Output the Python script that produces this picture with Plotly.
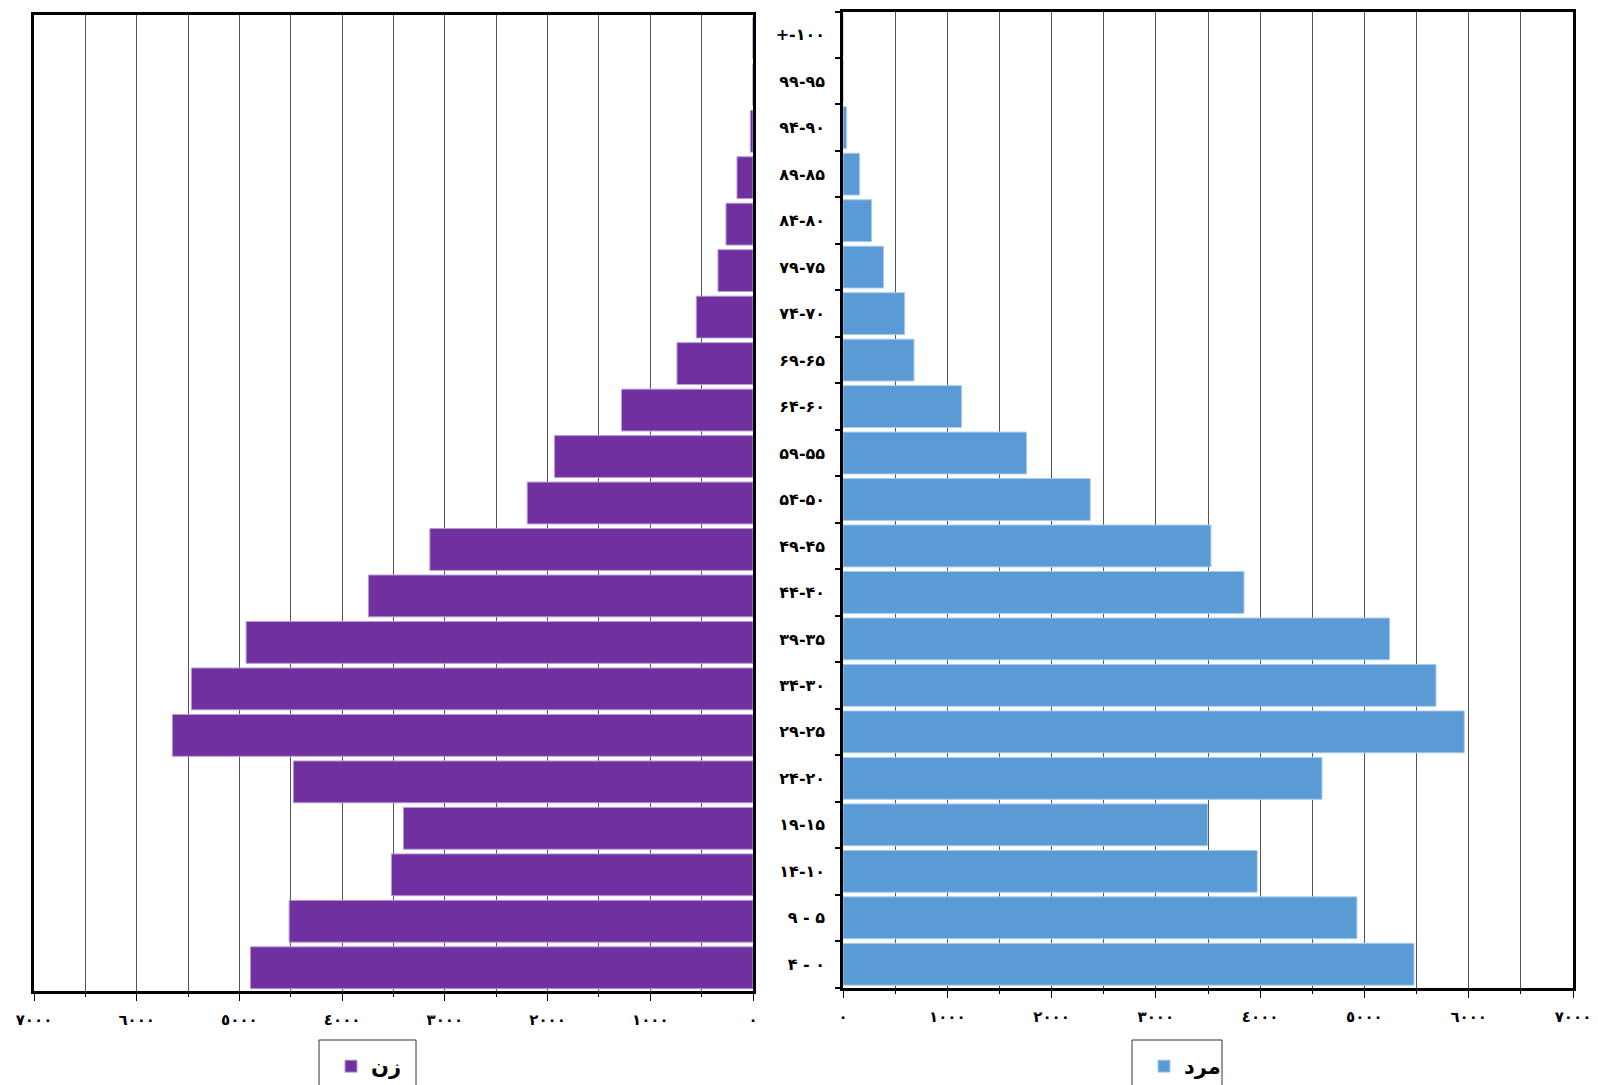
import plotly.graph_objects as go

age_groups = ["۴ - ۰", "۹ - ۵", "۱۴-۱۰", "۱۹-۱۵", "۲۴-۲۰", "۲۹-۲۵", "۳۴-۳۰",
              "۳۹-۳۵", "۴۴-۴۰", "۴۹-۴۵", "۵۴-۵۰", "۵۹-۵۵", "۶۴-۶۰", "۶۹-۶۵",
              "۷۴-۷۰", "۷۹-۷۵", "۸۴-۸۰", "۸۹-۸۵", "۹۴-۹۰", "۹۹-۹۵", "+-۱۰۰"]

women = [4893, 4516, 3520, 3403, 4475, 5653, 5468, 4935, 3744, 3146, 2198,
         1932, 1280, 740, 552, 341, 263, 156, 26, 0, 0]
men = [5475, 4928, 3972, 3496, 4593, 5957, 5686, 5241, 3845, 3528, 2371,
       1760, 1137, 681, 591, 389, 274, 159, 35, 0, 0]

tick_vals = [0, 1000, 2000, 3000, 4000, 5000, 6000, 7000]
tick_text = ["٠", "١٠٠٠", "٢٠٠٠", "٣٠٠٠", "٤٠٠٠", "٥٠٠٠", "٦٠٠٠", "٧٠٠٠"]

name_women = "زن"
name_men = "مرد"

W, H = 1598, 1085
FONT = "DejaVu Sans"


def px_x(p):
    return p / W


def px_y(p):
    return (H - p) / H


fig = go.Figure()
fig.add_trace(go.Bar(
    y=age_groups, x=women, orientation="h", name=name_women,
    marker=dict(color="#7030A0", line=dict(color="#B79BD3", width=1)),
    xaxis="x", yaxis="y", legend="legend",
))
fig.add_trace(go.Bar(
    y=age_groups, x=men, orientation="h", name=name_men,
    marker=dict(color="#5B9BD5", line=dict(color="#A9CBEB", width=1)),
    xaxis="x2", yaxis="y2", legend="legend2",
))

tickfont = dict(family=FONT, size=15, color="black", weight="bold")
grid_col = "#555555"

common_x = dict(
    tickmode="array", tickvals=tick_vals, ticktext=tick_text,
    showgrid=True, gridcolor=grid_col, gridwidth=1,
    minor=dict(dtick=500, tick0=0, showgrid=True, gridcolor=grid_col,
               gridwidth=1, ticks="outside", ticklen=3, tickcolor="black"),
    ticks="outside", ticklen=7, tickcolor="black", tickwidth=1,
    showline=True, linecolor="black", linewidth=3, mirror=True,
    zeroline=False, tickfont=tickfont, ticklabelstandoff=6,
    automargin=False,
)

legend_font = dict(family=FONT, size=21, color="black", weight="bold")

fig.update_layout(
    width=W, height=H, margin=dict(l=0, r=0, t=0, b=0, autoexpand=False),
    paper_bgcolor="white", plot_bgcolor="white",
    bargap=0.1, showlegend=True,
    xaxis=dict(domain=[px_x(34), px_x(753)], range=[7000, 0], anchor="y",
               **common_x),
    yaxis=dict(domain=[px_y(991), px_y(15)], type="category",
               categoryorder="array", categoryarray=age_groups,
               anchor="x", side="right", showticklabels=False,
               showline=True, linecolor="black", linewidth=2.5, mirror=True,
               ticks="", showgrid=False, automargin=False),
    xaxis2=dict(domain=[px_x(843), px_x(1573)], range=[0, 7000], anchor="y2",
                **common_x),
    yaxis2=dict(domain=[px_y(987.5), px_y(11.5)], type="category",
                categoryorder="array", categoryarray=age_groups,
                anchor="x2", side="left", showticklabels=True,
                tickson="boundaries", ticks="outside", ticklen=5,
                tickcolor="black", tickwidth=1.5,
                showline=True, linecolor="black", linewidth=2.5, mirror=True,
                showgrid=False, automargin=False,
                tickfont=dict(family=FONT, size=16, color="black",
                              weight="bold"),
                ticklabelstandoff=12),
    legend=dict(x=px_x(331), y=px_y(1046), xanchor="left", yanchor="top",
                borderwidth=0, bgcolor="rgba(0,0,0,0)", font=legend_font),
    legend2=dict(x=px_x(1144), y=px_y(1046), xanchor="left", yanchor="top",
                 borderwidth=0, bgcolor="rgba(0,0,0,0)", font=legend_font),
    shapes=[
        dict(type="rect", xref="paper", yref="paper",
             x0=px_x(319), x1=px_x(416), y0=px_y(1095), y1=px_y(1040),
             line=dict(color="#333333", width=1), fillcolor="rgba(0,0,0,0)",
             layer="below"),
        dict(type="rect", xref="paper", yref="paper",
             x0=px_x(1132), x1=px_x(1222), y0=px_y(1095), y1=px_y(1040),
             line=dict(color="#333333", width=1), fillcolor="rgba(0,0,0,0)",
             layer="below"),
    ],
)

fig.write_html("out.html", config={"displayModeBar": False},
               post_script="document.body.style.margin='0';document.body.style.overflow='hidden';")
